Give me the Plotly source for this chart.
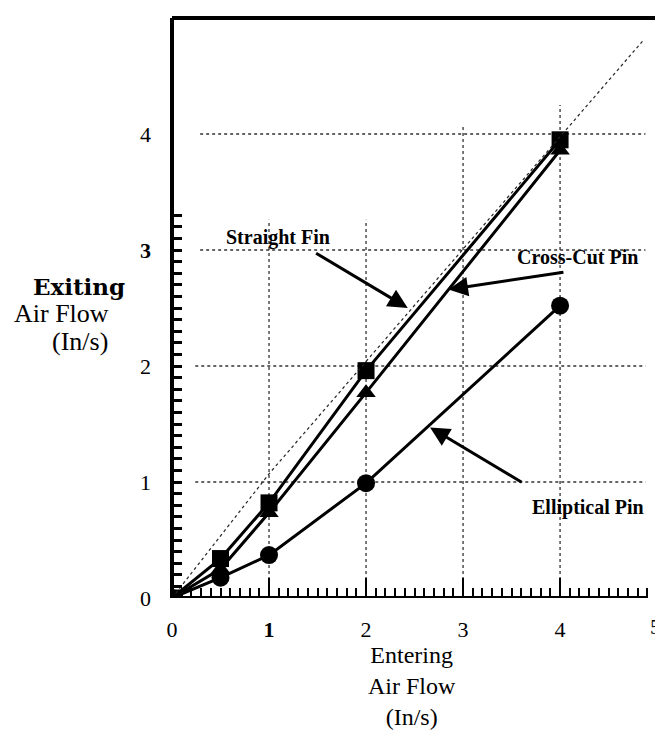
import numpy as np
import plotly.graph_objects as go

# ---- data ----
entering = [0, 0.5, 1, 2, 4]
straight_fin = [0, 0.34, 0.82, 1.96, 3.95]
cross_cut_pin = [0, 0.25, 0.735, 1.77, 3.86]
elliptical_pin = [0, 0.175, 0.37, 0.99, 2.52]
ref_x = [0, 1, 4.85]
ref_y = [0, 1.07, 4.8]

x_ticks = [0, 1, 2, 3, 4]
x_ticktext = ["0", "<b>1</b>", "2", "3", "4"]
x_last_label = "5"
y_ticks = [0, 1, 2, 3, 4, 5]
y_ticktext = ["0", "1", "2", "<b>3</b>", "4", "5"]

# the page body adds an 8 px margin, so the figure is 8 px smaller and starts at (8, 8)
OFF = 8
W, H = 663 - OFF, 745 - OFF
L, R, T, B = 172 - OFF, 3, 18 - OFF, 147
PW = W - L - R          # 488
PH = H - T - B          # 580
XMAX, YMAX = 5.03, 5.0


def px(xp):
    """reference-page x pixel -> paper x"""
    return (xp - OFF - L) / PW


def py(yp):
    """reference-page y pixel -> paper y"""
    return (H - B - (yp - OFF)) / PH


SERIF = "Liberation Serif, Times New Roman, serif"

fig = go.Figure()

fig.add_trace(go.Scatter(x=ref_x, y=ref_y, mode="lines", xaxis="x2",
                         line=dict(color="#222", width=1.2, dash="dot"),
                         showlegend=False, hoverinfo="skip"))
fig.add_trace(go.Scatter(x=entering, y=elliptical_pin, mode="lines+markers",
                         name="Elliptical Pin",
                         line=dict(color="black", width=3),
                         marker=dict(symbol="circle", size=18, color="black"),
                         showlegend=False))
fig.add_trace(go.Scatter(x=entering, y=cross_cut_pin, mode="lines+markers",
                         name="Cross-Cut Pin",
                         line=dict(color="black", width=3),
                         marker=dict(symbol="triangle-up", size=17, color="black"),
                         showlegend=False))
fig.add_trace(go.Scatter(x=entering, y=straight_fin, mode="lines+markers",
                         name="Straight Fin",
                         line=dict(color="black", width=3),
                         marker=dict(symbol="square", size=17, color="black"),
                         showlegend=False))

shapes = []
grid = dict(color="#333", width=1.3, dash="dot")
# horizontal gridlines
for yv, x0, x1 in [(1, 0.24, 4.88), (2, 0.24, 4.88), (3, 0.29, 4.88), (4, 0.29, 4.88)]:
    shapes.append(dict(type="line", xref="x", yref="y", x0=x0, x1=x1, y0=yv, y1=yv,
                       line=grid, layer="below"))
# vertical gridlines
for xv, ytop in [(1, 3.26), (2, 3.26), (3, 4.06), (4, 4.25)]:
    shapes.append(dict(type="line", xref="x", yref="y", x0=xv, x1=xv, y0=0, y1=ytop,
                       line=grid, layer="below"))
# frame
frame = dict(color="black", width=4)
shapes.append(dict(type="line", xref="paper", yref="paper", x0=0, x1=1, y0=1, y1=1, line=frame))
shapes.append(dict(type="line", xref="paper", yref="paper", x0=1, x1=1, y0=-0.004, y1=1, line=frame))
shapes.append(dict(type="line", xref="paper", yref="paper", x0=0, x1=0, y0=0, y1=1, line=frame))
shapes.append(dict(type="line", xref="x", yref="y", x0=0, x1=4.9, y0=0, y1=0, line=frame))

annotations = []
lab_font = dict(family=SERIF, size=20, color="black")
for text, xv, yv in [("<b>Straight Fin</b>", 1.09, 3.11),
                     ("<b>Cross-Cut Pin</b>", 4.18, 2.94),
                     ("<b>Elliptical Pin</b>", 4.29, 0.78)]:
    annotations.append(dict(text=text, x=xv, y=yv, xref="x", yref="y",
                            showarrow=False, font=lab_font,
                            xanchor="center", yanchor="middle"))
for (tx, ty), (hx, hy) in [((1.47, 2.98), (2.43, 2.50)),
                           ((4.05, 2.81), (2.85, 2.66)),
                           ((3.62, 0.99), (2.66, 1.47))]:
    annotations.append(dict(text="", x=hx, y=hy, ax=tx, ay=ty, xref="x", yref="y",
                            axref="x", ayref="y", showarrow=True, arrowhead=2,
                            arrowsize=1.3, arrowwidth=3, arrowcolor="black"))

# last x tick label, at the page edge as in the reference
annotations.append(dict(text=x_last_label, x=px(655), y=py(626), xref="paper", yref="paper",
                        showarrow=False, xanchor="center", yanchor="middle",
                        font=dict(family=SERIF, size=22, color="black")))

title_font = dict(family=SERIF, size=26, color="black")
annotations.append(dict(text="<b>Exiting</b>", x=px(79), y=py(286), xref="paper", yref="paper",
                        showarrow=False, xanchor="center", yanchor="middle",
                        font=dict(family="DejaVu Serif, serif", size=23, color="black")))
annotations.append(dict(text="Air Flow", x=px(61), y=py(313), xref="paper", yref="paper",
                        showarrow=False, xanchor="center", yanchor="middle", font=title_font))
annotations.append(dict(text="(In/s)", x=px(80), y=py(341), xref="paper", yref="paper",
                        showarrow=False, xanchor="center", yanchor="middle", font=title_font))
annotations.append(dict(text="Entering<br>Air Flow<br>(In/s)", x=px(412), y=py(686),
                        xref="paper", yref="paper", align="center",
                        showarrow=False, xanchor="center", yanchor="middle",
                        font=dict(family=SERIF, size=24, color="black")))

minor_x = [round(v, 2) for v in np.arange(1, 50) * 0.1 if abs(v - round(v)) > 1e-6]
minor_y = [round(v, 2) for v in np.arange(1, 34) * 0.1]

fig.update_layout(
    width=W, height=H,
    margin=dict(l=L, r=R, t=T, b=B, pad=0),
    plot_bgcolor="white", paper_bgcolor="white",
    showlegend=False,
    font=dict(family=SERIF, size=22, color="black"),
    shapes=shapes,
    annotations=annotations,
    xaxis=dict(range=[0, XMAX], showgrid=False, zeroline=False, showline=False,
               tickmode="array", tickvals=[1, 2, 3, 4], showticklabels=False,
               ticks="inside", ticklen=20, tickwidth=2.2, tickcolor="black",
               minor=dict(tickmode="array", tickvals=minor_x, ticks="inside",
                          ticklen=10, tickwidth=2.2, tickcolor="black", showgrid=False)),
    xaxis2=dict(range=[0, XMAX], overlaying="x", side="bottom", anchor="y",
                showgrid=False, zeroline=False, showline=False,
                tickmode="array", tickvals=x_ticks, ticktext=x_ticktext, ticks="",
                ticklabelstandoff=16,
                tickfont=dict(family=SERIF, size=22, color="black")),
    yaxis=dict(range=[0, YMAX], showgrid=False, zeroline=False, showline=False,
               tickmode="array", tickvals=y_ticks, ticktext=y_ticktext, ticks="",
               ticklabelstandoff=20,
               tickfont=dict(family=SERIF, size=22, color="black"),
               minor=dict(tickmode="array", tickvals=minor_y, ticks="inside",
                          ticklen=10, tickwidth=2.5, tickcolor="black", showgrid=False)),
)

fig.write_html("out.html")
